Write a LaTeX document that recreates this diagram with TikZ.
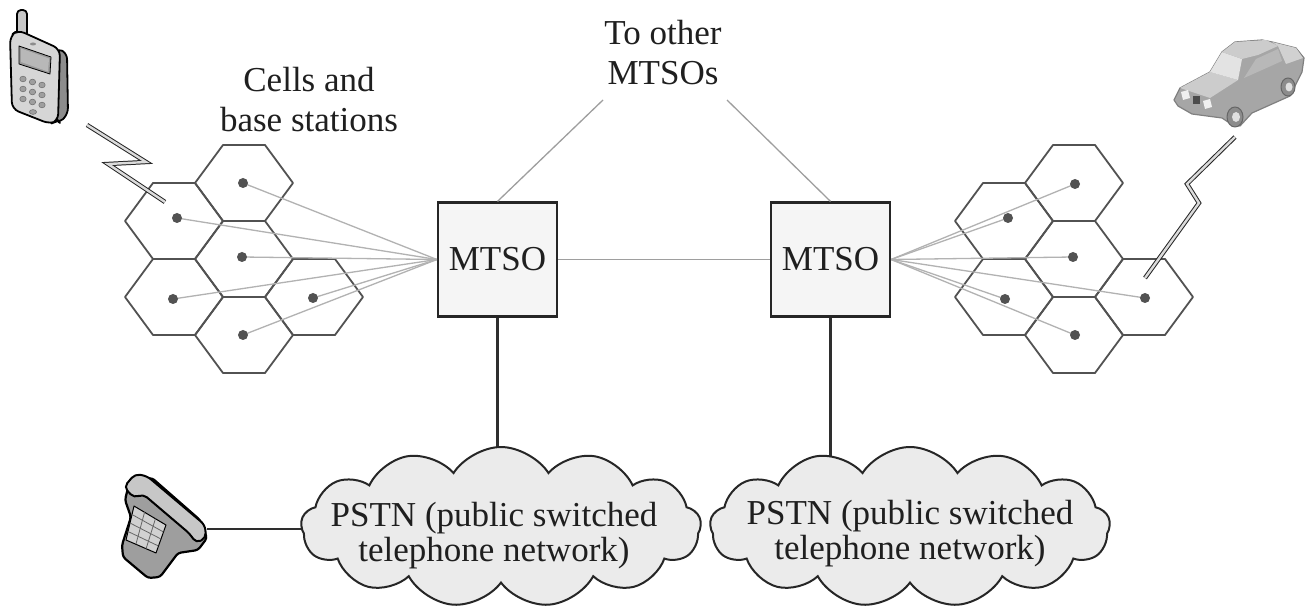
\documentclass[tikz,border=0pt]{standalone}
\usepackage{fontspec}
\setmainfont{Liberation Serif}
\usetikzlibrary{shapes.symbols,calc}
\pgfdeclarelayer{bg}
\pgfsetlayers{bg,main}
\begin{document}
\begin{tikzpicture}[x=1pt,y=-1pt,
  lbl/.style={font=\fontsize{35}{40}\selectfont, text=black!88, align=center, inner sep=0pt},
  cell/.style={draw=black!68, line width=1.8pt, line join=round},
  dotc/.style={fill=black!68},
  feed/.style={draw=black!30, line width=1.3pt},
  trunk/.style={draw=black!38, line width=1.3pt},
  mtso/.style={draw=black!85, line width=2.2pt, fill=black!4, minimum width=119pt,
    minimum height=114pt, inner sep=0pt, font=\fontsize{35}{40}\selectfont, text=black!88},
  pstn/.style={cloud, cloud puffs=13, cloud puff arc=115, draw=black!85, line width=2pt,
    fill=black!8, minimum width=400pt, minimum height=160pt, inner sep=0pt},
  wire/.style={draw=black!82, line width=2.2pt},
  bolt/.style={draw=black!85, line width=1pt, double=black!14, double distance=2.4pt,
    line join=miter, miter limit=6},
  hexcell/.pic={\draw[cell] (49,0) -- (21,38) -- (-21,38) -- (-49,0) -- (-21,-38) -- (21,-38) -- cycle;},
]
\begin{pgfonlayer}{bg}
  \fill[white] (0,0) rectangle (1307,609);
\end{pgfonlayer}
\useasboundingbox (0,0) rectangle (1307,609);

% ---------- switching offices ----------
\node[mtso] (mtsoL) at (497.5,259.5) {MTSO};
\node[mtso] (mtsoR) at (830.5,259.5) {MTSO};

% ---------- cell clusters ----------
\foreach \cx/\cy in {174/221,174/297,244/183,244/259,244/335,314/297,
                     1004/221,1004/297,1074/183,1074/259,1074/335,1144/297}
  \pic at (\cx,\cy) {hexcell};

% base stations
\coordinate (L1) at (177,218);  \coordinate (L2) at (173,299);
\coordinate (L3) at (243,183);  \coordinate (L4) at (242,257);
\coordinate (L5) at (243,335);  \coordinate (L6) at (313,298);
\coordinate (R1) at (1008,218); \coordinate (R2) at (1005,299);
\coordinate (R3) at (1075,184); \coordinate (R4) at (1073,257);
\coordinate (R5) at (1075,335); \coordinate (R6) at (1145,298);

\foreach \n in {L1,L2,L3,L4,L5,L6} \draw[feed] (\n) -- (mtsoL.west);
\foreach \n in {R1,R2,R3,R4,R5,R6} \draw[feed] (\n) -- (mtsoR.east);
\foreach \n in {L1,L2,L3,L4,L5,L6,R1,R2,R3,R4,R5,R6}
  \fill[dotc] (\n) circle[radius=5pt];

% ---------- trunks ----------
\draw[trunk] (mtsoL.east) -- (mtsoR.west);
\coordinate (upL) at (603,100);
\coordinate (upR) at (727,100);
\draw[trunk] (mtsoL.north) -- (upL);
\draw[trunk] (mtsoR.north) -- (upR);

% ---------- labels ----------
\node[lbl] (others) at (663,53) {To other\\MTSOs};
\node[lbl] (cells) at (309,100) {Cells and\\base stations};

% ---------- public network clouds ----------
\node[pstn] (cloudL) at (501,527) {};
\node[pstn] (cloudR) at (910,527) {};
\node[lbl, font=\fontsize{35}{35}\selectfont] (pstnL) at (494,536) {PSTN (public switched\\telephone network)};
\node[lbl, font=\fontsize{35}{35}\selectfont] (pstnR) at (910,534) {PSTN (public switched\\telephone network)};

\coordinate (deskphone) at (207,529);
\begin{pgfonlayer}{bg}
  \draw[wire] (mtsoL.south) -- (mtsoL.south |- cloudL.center);
  \draw[wire] (mtsoR.south) -- (mtsoR.south |- cloudR.center);
  \draw[wire, line width=1.8pt] (deskphone) -- (deskphone -| cloudL.center);
\end{pgfonlayer}

% ---------- radio links ----------
\draw[bolt] (87,125) -- (146,162) -- (108,164) -- (165,202);
\draw[bolt] (1235,137) -- (1187,184) -- (1199,203) -- (1145,278);

% ---------- handheld phone ----------
\begin{scope}[line join=round]
  \draw[line width=1.8pt, fill=black!22, rounded corners=4pt] (17,10) rectangle (27,40);
  \draw[line width=1.8pt, fill=black!45, rounded corners=5pt]
    (58,48) -- (67,54) -- (68,113) -- (60,123) -- (56,120) -- cycle;
  \draw[line width=1.8pt, fill=black!16, rounded corners=7pt]
    (10,36) -- (18,30) -- (60,49) -- (58,121) -- (50,124) -- (12,109) -- cycle;
  \draw[line width=0.8pt, fill=black!40] (19,46) -- (51,57) -- (50,74) -- (19,64) -- cycle;
  \fill[black!28] (21,48.5) -- (49,58.5) -- (48,71.5) -- (21,62) -- cycle;
  \fill[black!45] (33,44) ellipse[x radius=3pt, y radius=1.5pt];
  \foreach \i in {0,1,2}
    \foreach \j in {0,1,2}
      \draw[black!55, fill=black!38, line width=0.6pt]
        (23+9.5*\i, 79+10*\j+3*\i) ellipse[x radius=3.2pt, y radius=2.8pt];
  \draw[black!55, fill=black!38, line width=0.6pt] (33,112) ellipse[x radius=3.6pt, y radius=2.4pt];
\end{scope}

% ---------- car ----------
\begin{scope}[line join=round]
  \draw[black!50, line width=1.2pt, fill=black!35]
    (1174,100) -- (1180,88) -- (1210,72) -- (1222,52) -- (1235,42) -- (1262,40)
    -- (1272,42) -- (1296,48) -- (1304,58) -- (1302,72) -- (1296,84) -- (1290,96)
    -- (1252,113) -- (1240,126) -- (1228,122) -- (1222,118) -- (1192,114) -- (1178,106) -- cycle;
  \fill[black!20] (1180,88) -- (1210,72) -- (1238,80) -- (1210,98) -- cycle;
  \fill[black!11] (1210,72) -- (1222,52) -- (1242,59) -- (1238,80) -- cycle;
  \fill[black!20] (1222,52) -- (1235,42) -- (1266,40) -- (1278,46) -- (1258,55) -- (1242,59) -- cycle;
  \fill[black!28] (1244,78) -- (1256,59) -- (1278,49) -- (1282,61) -- (1262,70) -- cycle;
  \fill[black!18] (1272,42) -- (1296,48) -- (1303,58) -- (1286,64) -- (1278,46) -- cycle;
  \fill[black!6] (1181,92) -- (1188,90) -- (1190,98) -- (1183,100) -- cycle;
  \fill[black!6] (1203,101) -- (1210,99) -- (1212,107) -- (1205,109) -- cycle;
  \fill[black!70] (1193,96) rectangle (1200,104);
  \draw[black!60, line width=1pt, fill=black!45] (1235,117) ellipse[x radius=8pt, y radius=10pt];
  \fill[black!12] (1236,117) ellipse[x radius=4pt, y radius=5pt];
  \draw[black!60, line width=1pt, fill=black!45] (1288,87) ellipse[x radius=7pt, y radius=9pt];
  \fill[black!12] (1289,87) ellipse[x radius=3.5pt, y radius=4.5pt];
\end{scope}

% ---------- desk telephone ----------
\begin{scope}[line join=round]
  \draw[line width=2.2pt, fill=black!38, rounded corners=3pt]
    (122,545) -- (131,517) -- (125,500) -- (128,488) -- (136,480) -- (152,478)
    -- (200,520) -- (207,538) -- (198,550) -- (178,553) -- (160,577) -- (148,578)
    -- (123,557) -- cycle;
  \draw[line width=1pt, fill=black!18] (134,506) -- (166,525) -- (156,553) -- (126,540) -- cycle;
  \foreach \t in {0.25,0.5,0.75}
    \draw[black!60, line width=0.8pt] ($(134,506)!\t!(126,540)$) -- ($(166,525)!\t!(156,553)$);
  \foreach \t in {0.33,0.67}
    \draw[black!60, line width=0.8pt] ($(134,506)!\t!(166,525)$) -- ($(126,540)!\t!(156,553)$);
  \draw[line width=2pt, fill=black!22, rounded corners=5pt]
    (124,487) -- (135,474) -- (147,476) -- (205,525) -- (206,538) -- (196,543)
    -- (190,534) -- (143,494) -- (134,498) -- cycle;
\end{scope}
\end{tikzpicture}
\end{document}
